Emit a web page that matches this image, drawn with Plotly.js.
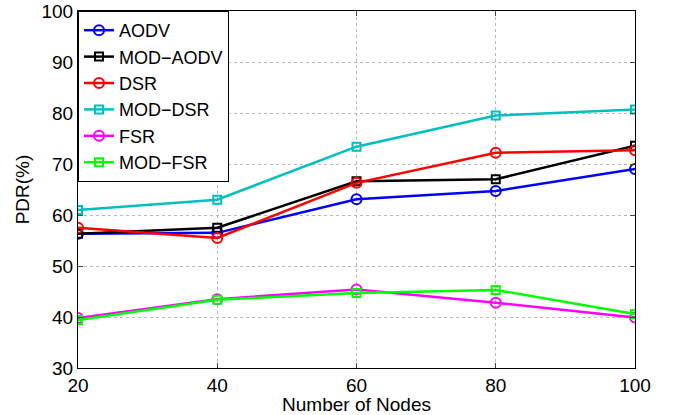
<!DOCTYPE html>
<html><head><meta charset="utf-8">
<script src="https://cdn.plot.ly/plotly-3.0.1.min.js"></script>
<style>html,body{margin:0;padding:0;background:#fff}#chart{width:673px;height:415px}</style>
</head><body><div id="chart"></div>
<script>
const nodes = [20, 40, 60, 80, 100];
const aodv    = [56.3, 56.5, 63.1, 64.7, 69.0];
const modAodv = [56.3, 57.5, 66.6, 67.0, 73.6];
const dsr     = [57.5, 55.5, 66.3, 72.2, 72.7];
const modDsr  = [61.0, 63.0, 73.4, 79.5, 80.7];
const fsr     = [39.8, 43.5, 45.4, 42.8, 39.9];
const modFsr  = [39.4, 43.4, 44.7, 45.3, 40.6];
const names   = ['AODV', 'MOD\u2212AODV', 'DSR', 'MOD\u2212DSR', 'FSR', 'MOD\u2212FSR'];
const series  = [aodv, modAodv, dsr, modDsr, fsr, modFsr];
const colors  = ['#0000ff', '#000000', '#ff0000', '#00bfbf', '#ff00ff', '#00ff00'];
const symbols = ['circle-open', 'square-open', 'circle-open', 'square-open', 'circle-open', 'square-open'];

const traces = series.map((s, i) => ({
  x: nodes, y: s, name: names[i], type: 'scatter', mode: 'lines+markers',
  line: {color: colors[i], width: 2.5},
  marker: {symbol: symbols[i], size: i % 2 ? 8 : 10, color: colors[i], line: {color: colors[i], width: 2}}
}));

const font = {family: 'Liberation Sans, Arial, sans-serif', size: 19, color: '#000'};
const layout = {
  width: 673, height: 415,
  margin: {l: 78, r: 38, t: 11, b: 47},
  paper_bgcolor: '#fff', plot_bgcolor: '#fff',
  font: font,
  showlegend: true,
  legend: {x: 0, y: 1, xanchor: 'left', yanchor: 'top', bgcolor: '#fff',
    bordercolor: '#000', borderwidth: 1, font: {family: font.family, size: 18, color: '#000'},
    tracegroupgap: 0, itemwidth: 30},
  xaxis: {range: [20, 100], tickvals: [20, 40, 60, 80, 100], ticks: 'inside', ticklen: 5,
    showline: true, linecolor: '#000', linewidth: 1, mirror: 'ticks',
    showgrid: true, gridcolor: '#b8b8b8', griddash: 'dot', gridwidth: 1, zeroline: false,
    title: {text: 'Number of Nodes', font: font, standoff: 0}, tickfont: font},
  yaxis: {range: [30, 100], tickvals: [30, 40, 50, 60, 70, 80, 90, 100], ticks: 'inside', ticklen: 5,
    showline: true, linecolor: '#000', linewidth: 1, mirror: 'ticks',
    showgrid: true, gridcolor: '#b8b8b8', griddash: 'dot', gridwidth: 1, zeroline: false,
    title: {text: 'PDR(%)', font: font, standoff: 6}, tickfont: font}
};
Plotly.newPlot('chart', traces, layout, {displayModeBar: false, staticPlot: true});
</script></body></html>
